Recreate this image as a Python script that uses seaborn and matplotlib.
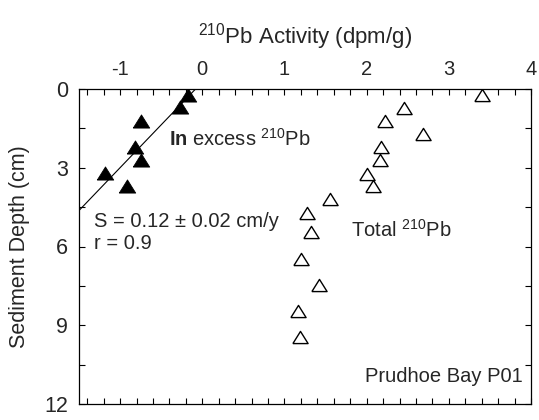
import matplotlib
matplotlib.use("Agg")
import matplotlib.pyplot as plt
import seaborn as sns
import numpy as np
import pandas as pd

# ---- data ----
depth_total = [0.21, 0.71, 1.22, 1.70, 2.21, 2.71, 3.22, 3.71, 4.20, 4.71, 5.45, 6.46, 7.48, 8.46, 9.45]
activity_total = [3.40, 2.45, 2.22, 2.68, 2.18, 2.16, 2.01, 2.08, 1.55, 1.28, 1.32, 1.20, 1.42, 1.16, 1.19]
depth_excess = [0.21, 0.69, 1.22, 2.21, 2.69, 3.20, 3.71]
ln_excess = [-0.17, -0.27, -0.74, -0.82, -0.75, -1.18, -0.91]

x_ticks = [-1, 0, 1, 2, 3, 4]
y_ticks = [0, 3, 6, 9, 12]

sns.set_theme(style="white")
plt.rcParams["font.family"] = ["Liberation Sans", "DejaVu Sans"]
plt.rcParams["mathtext.fontset"] = "custom"
plt.rcParams["mathtext.rm"] = "Liberation Sans"
plt.rcParams["mathtext.it"] = "Liberation Sans:italic"
plt.rcParams["mathtext.bf"] = "Liberation Sans:bold"
plt.rcParams["mathtext.default"] = "regular"
plt.rcParams["axes.unicode_minus"] = False

W, H = 539, 420
L, R, T, B = 79, 531, 89, 404
fig = plt.figure(figsize=(W/100, H/100), dpi=100)
ax = fig.add_axes([L/W, 1-B/H, (R-L)/W, (B-T)/H])
ax.set_xlim(-1.5, 4)
ax.set_ylim(12, 0)

df_tot = pd.DataFrame({"x": activity_total, "y": depth_total})
df_exc = pd.DataFrame({"x": ln_excess, "y": depth_excess})

tri = [(-1, -0.8), (1, -0.8), (0, 0.8), (-1, -0.8)]

sns.regplot(data=df_exc, x="x", y="y", ax=ax, scatter=False, ci=None,
            truncate=False, line_kws=dict(color="black", lw=0.8))
ax.set_xlim(-1.5, 4)
ax.set_ylim(12, 0)

sns.scatterplot(data=df_exc, x="x", y="y", ax=ax, marker=tri, s=140,
                color="black", edgecolor="black", linewidth=0.6, zorder=3)
sns.scatterplot(data=df_tot, x="x", y="y", ax=ax, marker=tri, s=120,
                facecolor="white", edgecolor="black", linewidth=1.0, zorder=3)

ax.xaxis.set_ticks_position("top")
ax.xaxis.set_label_position("top")
ax.set_xticks(x_ticks)
ax.set_xticks(np.arange(-1.4, 4.0, 0.2), minor=True)
ax.set_yticks(y_ticks)
ax.set_yticks(np.arange(0, 12.1, 1.5), minor=True)
ax.tick_params(which="both", direction="in", top=True, bottom=True, left=True, right=True,
               labeltop=True, labelbottom=False, color="black", width=0.8)
ax.tick_params(which="major", length=4, pad=7)
ax.tick_params(axis="x", which="major", labelsize=14.5)
ax.tick_params(axis="y", which="major", labelsize=15.5, pad=8)
ax.tick_params(which="minor", length=4)

for sp in ax.spines.values():
    sp.set_color("black")
    sp.set_linewidth(0.9)

ax.set_xlabel(r"$^{210}$Pb Activity (dpm/g)", fontsize=16, labelpad=12)
ax.set_ylabel("Sediment Depth (cm)", fontsize=15.5, labelpad=10)

fs = 14.5
ax.text(-0.41, 1.90, r"$\mathbf{In}$ excess $^{210}$Pb", fontsize=fs, va="center", ha="left")
ax.text(-1.32, 5.06, "S = 0.12 \u00b1 0.02 cm/y", fontsize=fs, va="center", ha="left")
ax.text(-1.32, 5.88, "r = 0.9", fontsize=fs, va="center", ha="left")
ax.text(1.81, 5.37, r"Total $^{210}$Pb", fontsize=fs, va="center", ha="left")
ax.text(3.90, 10.97, "Prudhoe Bay P01", fontsize=fs, va="center", ha="right")

fig.savefig("out.png", dpi=100)
